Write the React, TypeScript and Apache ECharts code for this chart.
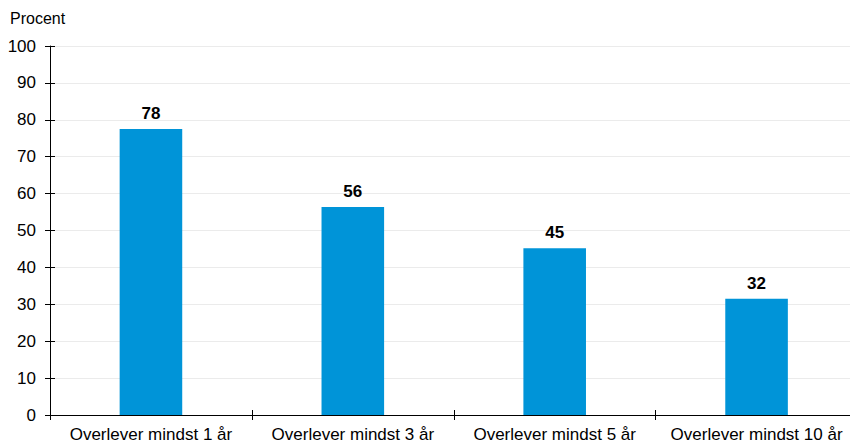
import React, { useEffect, useRef } from "react";
import * as echarts from "echarts";

const categories = [
  "Overlever mindst 1 år",
  "Overlever mindst 3 år",
  "Overlever mindst 5 år",
  "Overlever mindst 10 år",
];
const values = [77.5, 56.4, 45.2, 31.5];
const yMin = 0;
const yMax = 100;
const yInterval = 10;

export default function App() {
  const ref = useRef<HTMLDivElement>(null);
  useEffect(() => {
    document.body.style.margin = "0";
    const chart = echarts.init(ref.current!, null, { renderer: "svg" });
    const font = "'Liberation Sans', Arial, sans-serif";
    chart.setOption({
      animation: false,
      textStyle: { fontFamily: font },
      grid: { left: 50, right: 2.5, top: 46, bottom: 28, containLabel: false },
      graphic: [
        {
          type: "text",
          left: 10,
          top: 10,
          style: { text: "Procent", font: `16px ${font}`, fill: "#000" },
        },
      ],
      xAxis: [
        {
          type: "category",
          data: categories,
          axisLine: { lineStyle: { color: "#000", width: 1 } },
          axisTick: { show: true, length: 5, interval: 0, lineStyle: { color: "#000" } },
          axisLabel: {
            color: "#000",
            fontSize: 17,
            margin: 11,
            interval: 0,
            hideOverlap: false,
            fontFamily: font,
          },
          splitLine: { show: false },
        },
        {
          type: "category",
          data: categories,
          position: "bottom",
          axisLine: { show: false },
          axisTick: { show: true, inside: true, interval: 0, length: 5, lineStyle: { color: "#000" } },
          axisLabel: { show: false },
        },
      ],
      yAxis: [
        {
          type: "value",
          min: yMin,
          max: yMax,
          interval: yInterval,
          axisLine: { show: true, lineStyle: { color: "#000", width: 1 } },
          axisTick: { show: true, length: 5, lineStyle: { color: "#000" } },
          axisLabel: { color: "#000", fontSize: 17, margin: 14, fontFamily: font },
          splitLine: { show: true, lineStyle: { color: "#ebebeb", width: 1 } },
        },
        {
          type: "value",
          min: yMin,
          max: yMax,
          interval: yInterval,
          position: "left",
          axisLine: { show: false },
          axisTick: { show: true, inside: true, length: 5, lineStyle: { color: "#000" } },
          axisLabel: { show: false },
          splitLine: { show: false },
        },
      ],
      series: [
        {
          type: "bar",
          data: values,
          barWidth: "31%",
          itemStyle: { color: "#0094D8" },
          label: {
            show: true,
            position: "top",
            distance: 7,
            color: "#000",
            fontWeight: "bold",
            fontSize: 17,
            fontFamily: font,
            formatter: (p: any) => String(Math.round(p.value)),
          },
        },
      ],
    });
    return () => chart.dispose();
  }, []);
  return (
    <div style={{ width: 850, height: 443, overflow: "hidden", position: "relative" }}>
      <div ref={ref} style={{ width: 860, height: 443 }} />
    </div>
  );
}
